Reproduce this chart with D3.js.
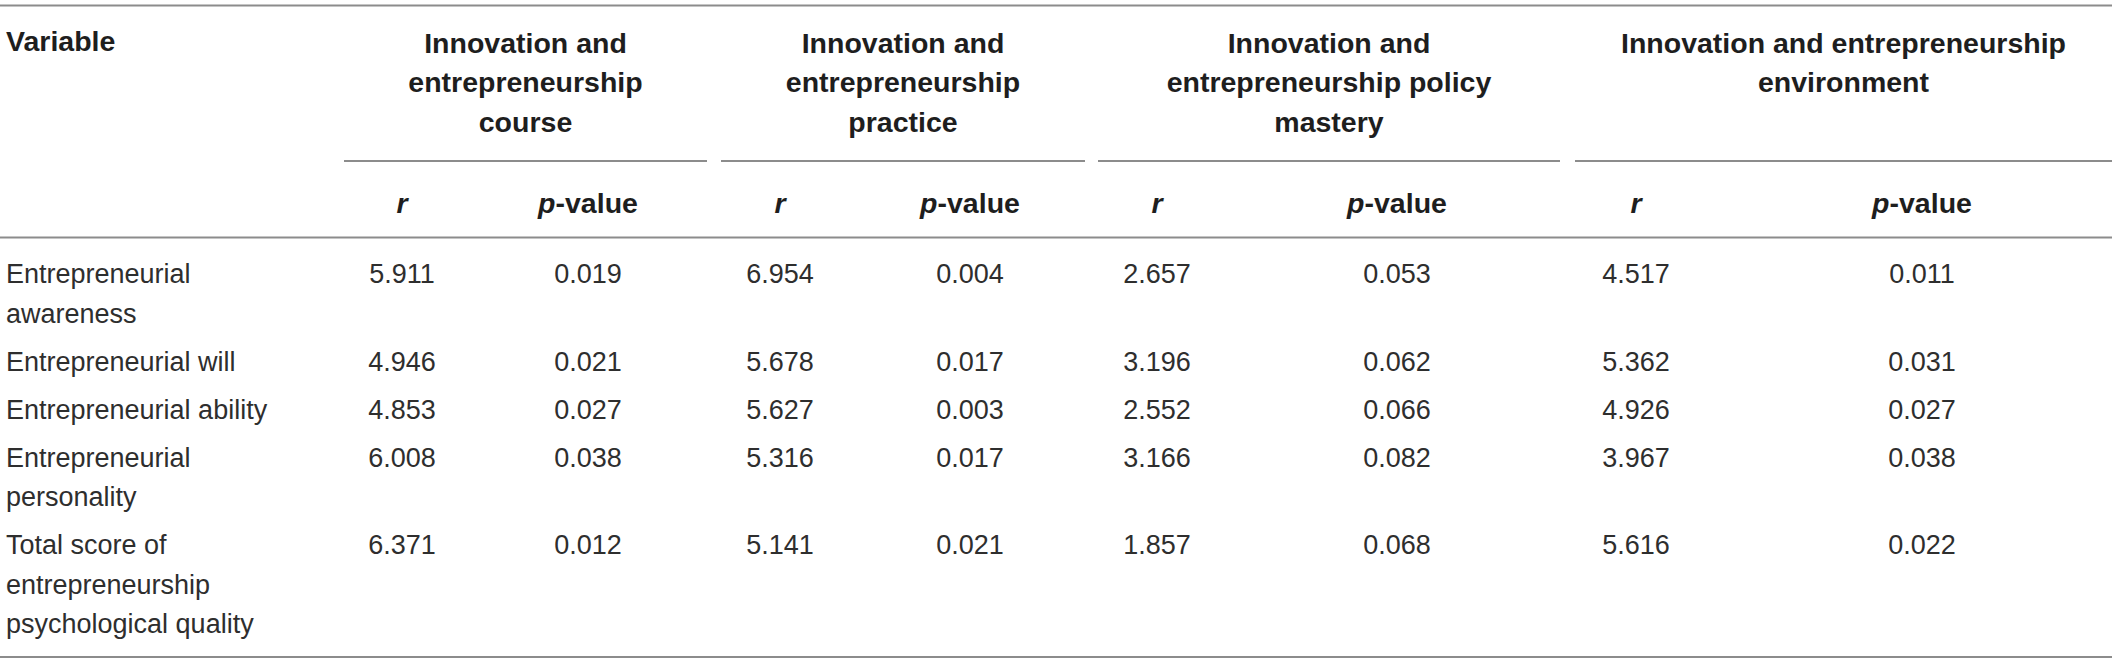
<!DOCTYPE html>
<html>
<head>
<meta charset="utf-8">
<script src="https://cdn.jsdelivr.net/npm/d3@7"></script>
<style>
  html, body { margin: 0; padding: 0; background: #fff; }
  svg text { font-family: "Liberation Sans", Arial, Helvetica, sans-serif; }
</style>
</head>
<body>
<div id="app"></div>
<script>
const WIDTH = 2118;
const HEIGHT = 661;

// column group titles, already broken into lines as in the table
const groupTitles = [
  ['Innovation and', 'entrepreneurship', 'course'],
  ['Innovation and', 'entrepreneurship', 'practice'],
  ['Innovation and', 'entrepreneurship policy', 'mastery'],
  ['Innovation and entrepreneurship', 'environment']
];

const variables = [
  ['Entrepreneurial', 'awareness'],
  ['Entrepreneurial will'],
  ['Entrepreneurial ability'],
  ['Entrepreneurial', 'personality'],
  ['Total score of', 'entrepreneurship', 'psychological quality']
];

// r per group, one row per variable
const rValues = [
  [5.911, 6.954, 2.657, 4.517],
  [4.946, 5.678, 3.196, 5.362],
  [4.853, 5.627, 2.552, 4.926],
  [6.008, 5.316, 3.166, 3.967],
  [6.371, 5.141, 1.857, 5.616]
];

const pValues = [
  [0.019, 0.004, 0.053, 0.011],
  [0.021, 0.017, 0.062, 0.031],
  [0.027, 0.003, 0.066, 0.027],
  [0.038, 0.017, 0.082, 0.038],
  [0.012, 0.021, 0.068, 0.022]
];

// layout
const groupSpans = [[344, 707], [721, 1085], [1098, 1560], [1575, 2112]];
const rX = [402, 780, 1157, 1636];
const pX = [588, 970, 1397, 1922];
const LINE = 39.6, ROW_GAP = 8.3;
const RULE = '#8c8c8c';
const fmt = d3.format('.3f');

const svg = d3.select('#app')
  .append('svg')
    .attr('width', WIDTH)
    .attr('height', HEIGHT);

// y of each text line in the body: line index + row index
const lineY = d3.scaleLinear().domain([0, 1]).range([274, 274 + LINE]);
let start = 0;
const rows = variables.map((lines, i) => {
  const row = { lines, first: start, index: i };
  start += lines.length;
  return row;
});
const yOf = (row, k) => lineY(row.first + k) + row.index * ROW_GAP;

// rules
const hline = (x1, x2, y) => svg.append('line')
  .attr('x1', x1).attr('x2', x2).attr('y1', y).attr('y2', y)
  .attr('stroke', RULE).attr('stroke-width', 1.8);

hline(0, 2112, 5.5);
groupSpans.forEach(s => hline(s[0], s[1], 161));
hline(0, 2112, 237.5);
hline(0, 2112, 657);

// header
const head = svg.append('g')
  .attr('font-weight', 'bold')
  .attr('font-size', 28.5)
  .attr('fill', '#1e1e1e');

head.append('text')
  .attr('x', 6).attr('y', 41).attr('dy', '0.35em')
  .text('Variable');

const titleY = d3.scaleLinear().domain([0, 1]).range([43, 82.5]);
head.selectAll('.group')
  .data(groupTitles)
  .enter()
    .append('text')
    .attr('class', 'group')
    .attr('text-anchor', 'middle')
    .attr('x', (d, i) => (groupSpans[i][0] + groupSpans[i][1]) / 2)
    .each(function(d) {
      d3.select(this).selectAll('tspan')
        .data(d)
        .enter()
          .append('tspan')
          .attr('x', d3.select(this).attr('x'))
          .attr('y', (l, k) => titleY(k))
          .attr('dy', '0.35em')
          .text(l => l);
    });

head.selectAll('.rhead')
  .data(rX)
  .enter()
    .append('text')
    .attr('text-anchor', 'middle')
    .attr('x', d => d).attr('y', 203).attr('dy', '0.35em')
    .attr('font-style', 'italic')
    .text('r');

const ph = head.selectAll('.phead')
  .data(pX)
  .enter()
    .append('text')
    .attr('text-anchor', 'middle')
    .attr('x', d => d).attr('y', 203).attr('dy', '0.35em');
ph.append('tspan').attr('font-style', 'italic').text('p');
ph.append('tspan').text('-value');

// body
const body = svg.append('g')
  .attr('font-size', 27)
  .attr('fill', '#2e2e2e');

const rowG = body.selectAll('.row')
  .data(rows)
  .enter()
    .append('g')
    .attr('class', 'row');

rowG.each(function(row) {
  const g = d3.select(this);
  g.selectAll('.var')
    .data(row.lines)
    .enter()
      .append('text')
      .attr('x', 6)
      .attr('y', (l, k) => yOf(row, k))
      .attr('dy', '0.35em')
      .text(l => l);

  g.selectAll('.r')
    .data(rValues[row.index])
    .enter()
      .append('text')
      .attr('text-anchor', 'middle')
      .attr('x', (v, j) => rX[j])
      .attr('y', yOf(row, 0))
      .attr('dy', '0.35em')
      .text(v => fmt(v));

  g.selectAll('.p')
    .data(pValues[row.index])
    .enter()
      .append('text')
      .attr('text-anchor', 'middle')
      .attr('x', (v, j) => pX[j])
      .attr('y', yOf(row, 0))
      .attr('dy', '0.35em')
      .text(v => fmt(v));
});
</script>
</body>
</html>
